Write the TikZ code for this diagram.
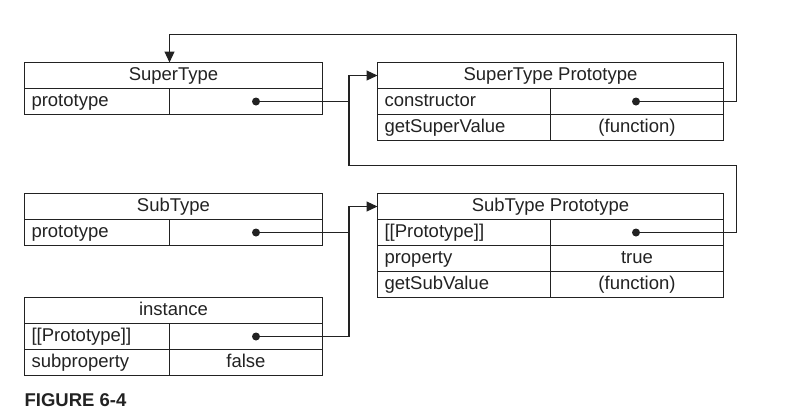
\documentclass[tikz,border=0pt]{standalone}
\usepackage{fontspec}
\setmainfont{Liberation Sans}
\usetikzlibrary{arrows.meta}
\definecolor{ink}{HTML}{222222}
\tikzset{
  cell/.style={draw, inner sep=0pt, outer sep=0pt, anchor=north west,
    minimum height=26pt, text height=12.5pt, text depth=3.5pt},
  headcell/.style={cell, minimum width=#1},
  keycell/.style={cell, text width=#1, inner xsep=7pt, align=left},
  valcell/.style={cell, minimum width=#1},
  refdot/.style={circle, fill, inner sep=0pt, minimum size=8pt},
  link/.style={-{Triangle[length=11pt,width=10pt]}}
}
\begin{document}
\begin{tikzpicture}[x=1pt, y=-1pt, line width=1.2pt, ink, font=\fontsize{18.5}{20}\selectfont]
      \useasboundingbox (0,0) rectangle (812,410);

      % SuperType
      \node (super)     [headcell=298pt] at (24.5,62.5)          {SuperType};
      \node (superkey1) [keycell=131pt]  at (super.south west)   {prototype};
      \node (superval1) [valcell=153pt]  at (superkey1.north east) {};

      % SuperType Prototype
      \node (sproto)     [headcell=346pt] at (377.5,62.5)           {SuperType Prototype};
      \node (sprotokey1) [keycell=159pt]  at (sproto.south west)    {constructor};
      \node (sprotoval1) [valcell=173pt]  at (sprotokey1.north east) {};
      \node (sprotokey2) [keycell=159pt]  at (sprotokey1.south west) {getSuperValue};
      \node (sprotoval2) [valcell=173pt]  at (sprotokey2.north east) {(function)};

      % SubType
      \node (sub)     [headcell=298pt] at (24.5,193.5)       {SubType};
      \node (subkey1) [keycell=131pt]  at (sub.south west)   {prototype};
      \node (subval1) [valcell=153pt]  at (subkey1.north east) {};

      % SubType Prototype
      \node (subproto)     [headcell=346pt] at (377.5,193.5)             {SubType Prototype};
      \node (subprotokey1) [keycell=159pt]  at (subproto.south west)     {[[Prototype]]};
      \node (subprotoval1) [valcell=173pt]  at (subprotokey1.north east) {};
      \node (subprotokey2) [keycell=159pt]  at (subprotokey1.south west) {property};
      \node (subprotoval2) [valcell=173pt]  at (subprotokey2.north east) {true};
      \node (subprotokey3) [keycell=159pt]  at (subprotokey2.south west) {getSubValue};
      \node (subprotoval3) [valcell=173pt]  at (subprotokey3.north east) {(function)};

      % instance
      \node (inst)     [headcell=298pt] at (24.5,297.5)        {instance};
      \node (instkey1) [keycell=131pt]  at (inst.south west)   {[[Prototype]]};
      \node (instval1) [valcell=153pt]  at (instkey1.north east) {};
      \node (instkey2) [keycell=131pt]  at (instkey1.south west) {subproperty};
      \node (instval2) [valcell=153pt]  at (instkey2.north east) {false};

      % pointers
      \node (superdot)    [refdot] at (256,101.5) {};
      \node (sprotodot)   [refdot] at (636,101.5) {};
      \node (subdot)      [refdot] at (256,232.5) {};
      \node (subprotodot) [refdot] at (636,232.5) {};
      \node (instdot)     [refdot] at (256,336.5) {};

      \coordinate (trunk) at (349,0);
      \coordinate (rtop)  at (736.5,34.5);
      \coordinate (rmid)  at (736.5,165.5);

      \draw (superdot.center) -- (superdot -| trunk);
      \draw (subdot.center) -- (subdot -| trunk);
      \draw [link] (subprotodot.center) -| (rmid) -- (rmid -| trunk) |- (sproto.west);
      \draw [link] (sprotodot.center) -| (rtop) -| (super.north -| superkey1.east);
      \draw [link] (instdot.center) -- (instdot -| trunk) |- (subproto.west);

      % caption
      \node (caption) [anchor=base west, inner sep=0pt, font=\fontsize{18.5}{20}\selectfont\bfseries]
          at (24,406) {FIGURE 6-4};
\end{tikzpicture}
\end{document}
